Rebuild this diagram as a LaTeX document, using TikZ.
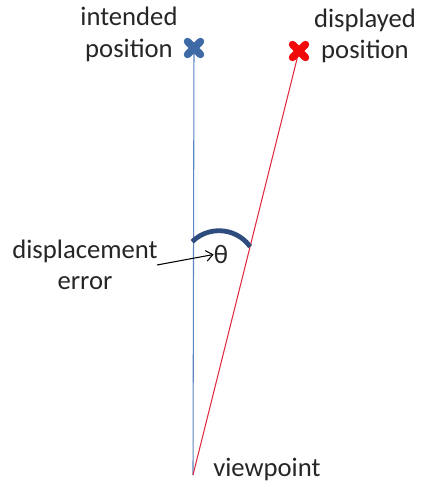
\documentclass[tikz,border=0pt]{standalone}
\usepackage{fontspec}
\setmainfont{Carlito}
\usetikzlibrary{arrows.meta,positioning}
\definecolor{lineblue}{HTML}{5B84C0}
\definecolor{crossblue}{HTML}{3E6AA6}
\definecolor{linered}{HTML}{E0253C}
\definecolor{crossred}{HTML}{F00A0A}
\definecolor{arcblue}{HTML}{2E4D7E}
\tikzset{
    label/.style={font=\fontsize{20}{24}\selectfont, text=black!85, inner sep=0pt, align=center},
    cross/.style={line width=5.6pt, line cap=round}
}

\begin{document}
\begin{tikzpicture}[x=0.75pt, y=0.75pt]
    \useasboundingbox (0,0) rectangle (421,487);

    % Points
    \coordinate (vp) at (193,12);
    \coordinate (ip) at (194,439);
    \coordinate (dp) at (299,436);

    % Sight lines
    \draw[lineblue, line width=0.8pt] (vp) -- (ip);
    \draw[linered, line width=0.8pt] (vp) -- (dp);

    % Crosses
    \draw[cross, crossblue, shift={(ip)}] (-6.5,-6.5) -- (6.5,6.5) (-6.5,6.5) -- (6.5,-6.5);
    \draw[cross, crossred, shift={(dp)}] (-6.5,-6.5) -- (6.5,6.5) (-6.5,6.5) -- (6.5,-6.5);

    % Angle
    \draw[arcblue, line width=3.6pt] (219,218) ++(134.6:38.3) arc[start angle=134.6, end angle=35.6, radius=38.3];
    \node[label] (theta) at (221,232.5) {θ};

    % Labels
    \node[label, anchor=base] (intended) at (129,430) {intended\\position};
    \node[label, anchor=base] (displayed) at (365,428) {displayed\\position};
    \node[label, anchor=base] (displacement) at (85,197) {displacement\\error};
    \node[label, anchor=base west] (viewpoint) at (213,11) {viewpoint};

    % Pointer
    \coordinate (pointer) at (157,222);
    \draw[-{Straight Barb[length=5pt, width=8pt]}, line width=0.8pt] (pointer) -- (theta.west);
\end{tikzpicture}
\end{document}
